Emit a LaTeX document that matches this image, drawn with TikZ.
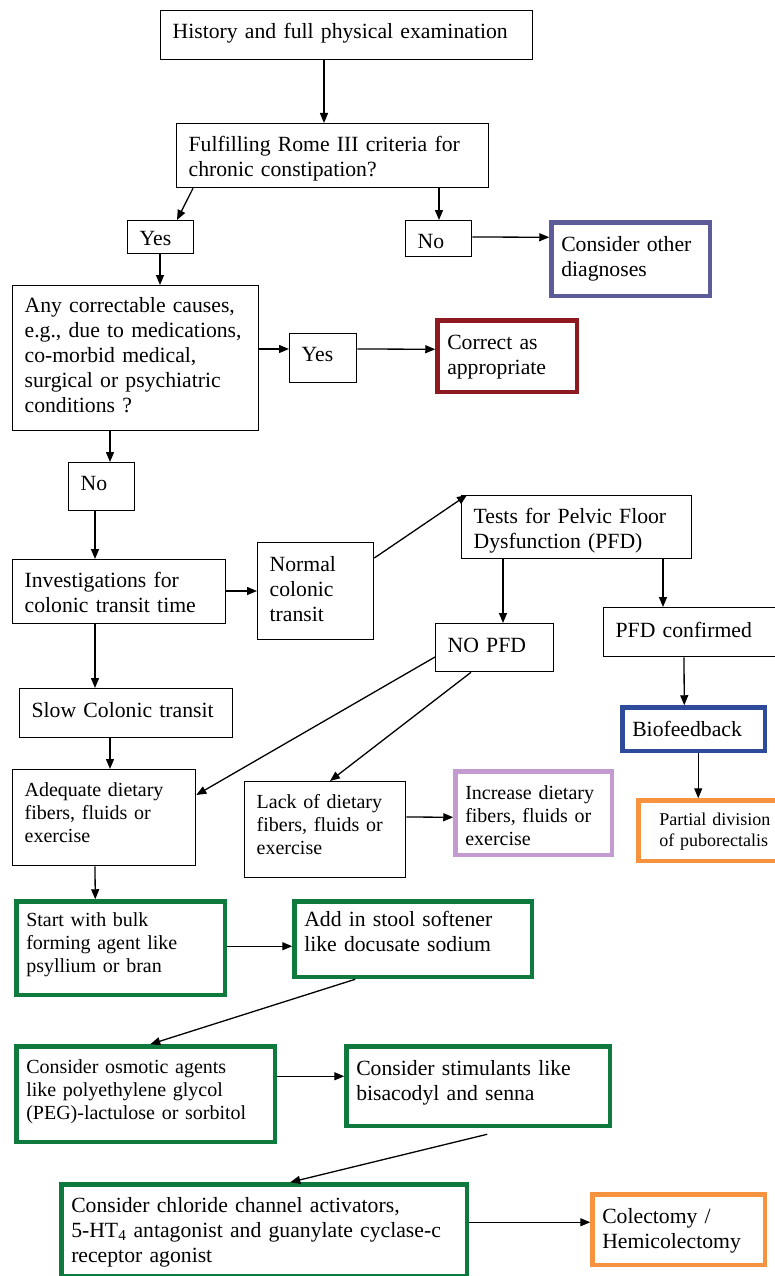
\documentclass[tikz,border=0pt]{standalone}
\usepackage{fontspec}
\setmainfont{Liberation Serif}
\usepackage{tikz}
\usetikzlibrary{arrows.meta,calc}
\definecolor{slate}{HTML}{5C5C99}
\definecolor{wine}{HTML}{8E1A1F}
\definecolor{navy}{HTML}{2E4B9B}
\definecolor{lilac}{HTML}{C39BD0}
\definecolor{amber}{HTML}{F7923F}
\definecolor{leaf}{HTML}{0E7A3D}
\newcommand{\leadtext}{28}
\tikzset{
  flowbox/.style={draw, line width=1.3pt, anchor=north west, align=left,
    inner xsep=12pt, inner ysep=0pt, font=\fontsize{21.7}{25}\selectfont},
  markbox/.style={flowbox, draw=#1, line width=4.5pt, minimum width=0pt, minimum height=0pt,
    inner xsep=9.75pt, inner ysep=-2.25pt, xshift=2.25pt, yshift=-2.25pt},
  smalltext/.style={font=\fontsize{20}{23}\selectfont},
  tinytext/.style={font=\fontsize{18}{21}\selectfont},
  lead/.code={\def\leadtext{#1}}
}
\newcommand{\stepat}[6][flowbox]{\node[minimum width=#4,minimum height=#5,text width=#4-24,text height=\leadtext,text depth=#5-\leadtext,#1] (#2) at #3 {#6} ;}
\newcommand{\connect}[3][]{\draw[->,line width=1.3pt,#1] (#2)--(#3) ;}

\begin{document}
\begin{tikzpicture}[x=1pt,y=-1pt,>={Triangle[length=10pt,width=8pt]}]
        \useasboundingbox (0,0) rectangle (775,1276);
        \stepat{hist}{(160,10)}{372}{49}{History and full physical examination}
        \stepat{rome}{(176,123)}{312}{64}{Fulfilling Rome III criteria for\\chronic constipation?}
        \stepat[flowbox,lead=25]{yesA}{(127,220)}{66}{33}{Yes}
        \stepat{noA}{(405,220)}{66}{36}{No}
        \stepat[markbox=slate,lead=31]{other}{(547,218)}{163}{78}{Consider other\\diagnoses}
        \stepat[flowbox,lead=27]{cause}{(12,285)}{246}{145}{Any correctable causes,\\e.g., due to medications,\\co-morbid medical,\\surgical or psychiatric\\conditions ?}
        \stepat{yesB}{(289,333)}{67}{49}{Yes}
        \stepat[markbox=wine,lead=31]{fix}{(433,316)}{144}{76}{Correct as\\appropriate}
        \stepat{noB}{(68,462)}{66}{48}{No}
        \stepat{invest}{(12,559)}{213}{64}{Investigations for\\colonic transit time}
        \stepat[flowbox,lead=29]{normal}{(257,542)}{116}{97}{Normal\\colonic\\transit}
        \stepat{pfdtest}{(461,495)}{230}{63}{Tests for Pelvic Floor\\Dysfunction (PFD)}
        \stepat[flowbox,lead=29]{nopfd}{(435,623)}{118}{48}{NO PFD}
        \stepat[flowbox,lead=30]{pfdyes}{(603,607)}{180}{49}{PFD confirmed}
        \stepat[flowbox,lead=29]{slow}{(19,688)}{213}{49}{Slow Colonic transit}
        \stepat[markbox=navy,lead=31]{biofb}{(618,703)}{147}{48}{Biofeedback}
        \stepat[flowbox,smalltext,lead=27]{adequate}{(12,769)}{183}{96}{Adequate dietary\\fibers, fluids or\\exercise}
        \stepat[flowbox,smalltext,lead=27]{lack}{(244,781)}{161}{96}{Lack of dietary\\fibers, fluids or\\exercise}
        \stepat[markbox=lilac,smalltext,lead=30]{increase}{(451,767)}{161}{88}{Increase dietary\\fibers, fluids or\\exercise}
        \stepat[markbox=amber,tinytext,lead=27,inner xsep=20.75pt]{partial}{(634,796)}{150}{65}{Partial division\\of puborectalis}
        \stepat[markbox=leaf,smalltext,lead=27.5]{bulk}{(12,897)}{213}{98}{Start with bulk\\forming agent like\\psyllium or bran}
        \stepat[markbox=leaf,lead=27]{soften}{(290,897)}{242}{80}{Add in stool softener\\like docusate sodium}
        \stepat[markbox=leaf,smalltext,lead=29.5]{osmotic}{(12,1042)}{263}{100}{Consider osmotic agents\\like polyethylene glycol\\(PEG)-lactulose or sorbitol}
        \stepat[markbox=leaf,lead=31]{stimul}{(342,1042)}{268}{84}{Consider stimulants like\\bisacodyl and senna}
        \stepat[markbox=leaf,lead=30]{chloride}{(57,1180)}{410}{96}{Consider chloride channel activators,\\5-HT\textsubscript{4} antagonist and guanylate cyclase-c\\receptor agonist}
        \stepat[markbox=amber,lead=31]{colect}{(588,1190)}{177}{75}{Colectomy /\\Hemicolectomy}
        % connectors
        \connect{$(hist.south west)+(164,0)$}{$(rome.north west)+(148,0)$}
        \connect{$(rome.south west)+(17,0)$}{$(yesA.north west)+(50,0)$}
        \connect{$(rome.south west)+(263,0)$}{$(noA.north west)+(34,0)$}
        \connect{$(noA.north east)+(0,17)$}{$(other.north west)+(0,17)$}
        \connect{$(yesA.south west)+(33,0)$}{$(cause.north west)+(148,0)$}
        \connect{$(cause.north east)+(0,64)$}{$(yesB.north west)+(0,16)$}
        \connect{$(yesB.north east)+(0,16)$}{$(fix.north west)+(0,31)$}
        \connect{$(cause.south west)+(98,0)$}{$(noB.north west)+(42,0)$}
        \connect{$(noB.south west)+(27,0)$}{$(invest.north west)+(83,0)$}
        \connect{$(invest.north east)+(0,32)$}{$(normal.north west)+(0,49)$}
        \connect{$(normal.north east)+(0,16)$}{$(pfdtest.north west)+(6,0)$}
        \connect{$(pfdtest.south west)+(42,0)$}{$(nopfd.north west)+(68,0)$}
        \connect{$(pfdtest.south west)+(202,0)$}{$(pfdyes.north west)+(60,0)$}
        \connect{$(invest.south west)+(83,0)$}{$(slow.north west)+(76,0)$}
        \connect{$(nopfd.north west)+(0,34)$}{$(adequate.north east)+(0,26)$}
        \connect{$(nopfd.south west)+(36,0)$}{$(lack.north west)+(86,0)$}
        \connect{$(pfdyes.south west)+(81,0)$}{$(biofb.north west)+(64,0)$}
        \connect{$(slow.south west)+(91,0)$}{$(adequate.north west)+(98,0)$}
        \connect{$(biofb.south west)+(78,0)$}{$(partial.north west)+(62,0)$}
        \connect{$(lack.north east)+(0,36)$}{$(increase.north west)+(0,48)$}
        \connect{$(adequate.south west)+(83,0)$}{$(bulk.north west)+(81,0)$}
        \connect{$(bulk.north east)+(0,47)$}{$(soften.north west)+(0,47)$}
        \connect{$(soften.south west)+(63,0)$}{$(osmotic.north west)+(136,0)$}
        \connect{$(osmotic.north east)+(0,32)$}{$(stimul.north west)+(0,32)$}
        \connect{$(stimul.south west)+(143,6)$}{$(chloride.north west)+(231,0)$}
        \connect{$(chloride.north east)+(0,40)$}{$(colect.north west)+(0,30)$}
    \end{tikzpicture}
\end{document}
